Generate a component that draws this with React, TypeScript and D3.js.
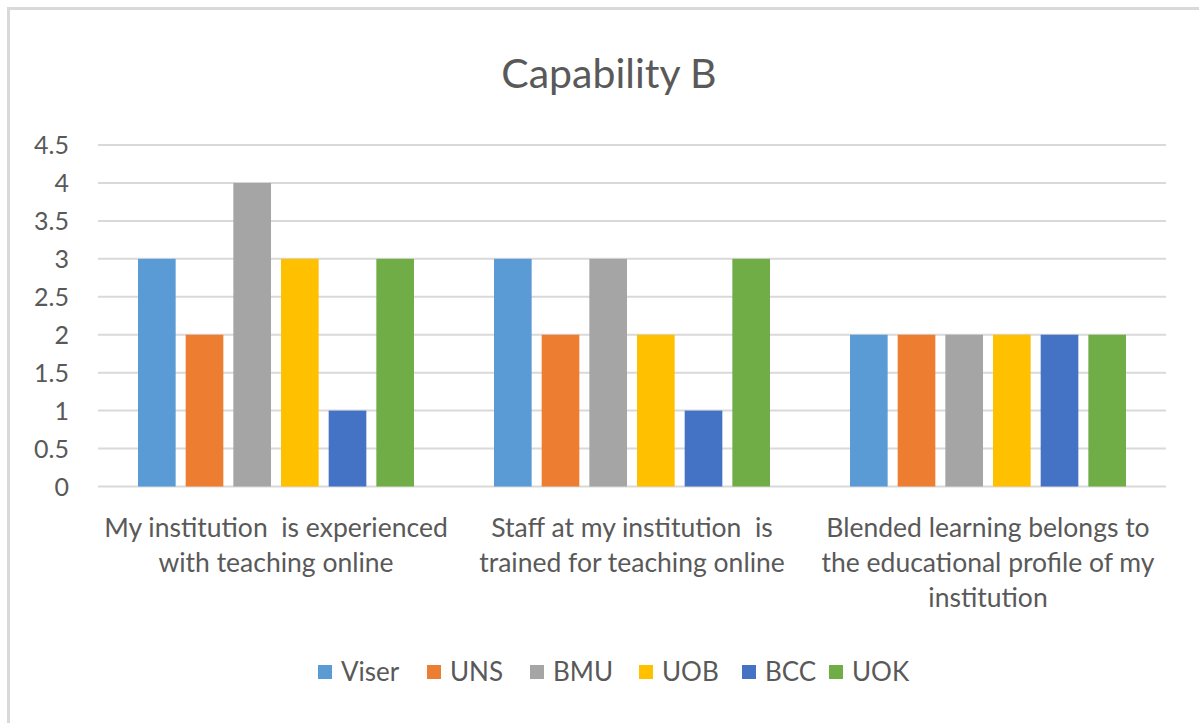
import React from "react";
import * as d3 from "d3";

const categories: string[][] = [
  ["My institution  is experienced", "with teaching online"],
  ["Staff at my institution  is", "trained for teaching online"],
  ["Blended learning belongs to", "the educational profile of my", "institution"],
];
const seriesNames = ["Viser", "UNS", "BMU", "UOB", "BCC", "UOK"];
const seriesColors = ["#5B9BD5", "#ED7D31", "#A5A5A5", "#FFC000", "#4472C4", "#70AD47"];
const viser = [3, 3, 2];
const uns = [2, 2, 2];
const bmu = [4, 3, 2];
const uob = [3, 2, 2];
const bcc = [1, 1, 2];
const uok = [3, 3, 2];
const seriesValues = [viser, uns, bmu, uob, bcc, uok];
const yTicks = [0, 0.5, 1, 1.5, 2, 2.5, 3, 3.5, 4, 4.5];
const title = "Capability B";

const W = 1199;
const H = 723;
const FONT = "Lato, 'Open Sans', sans-serif";
const TEXT = "#595959";
const GRID = "#d9d9d9";

export default function App() {
  const left = 98;
  const right = 1166;
  const top = 145;
  const bottom = 486.5;

  const x0 = d3
    .scaleBand<number>()
    .domain(categories.map((_, i) => i))
    .range([left, right])
    .paddingInner(0)
    .paddingOuter(0);
  const catW = x0.bandwidth();
  const outer = 40;
  const x1 = d3
    .scaleBand<number>()
    .domain(seriesNames.map((_, i) => i))
    .range([outer, catW - outer])
    .paddingInner(0.21)
    .paddingOuter(0);
  const y = d3.scaleLinear().domain([0, 4.5]).range([bottom, top]);

  const legendX = [318, 427, 530, 639, 742, 829];
  const legendY = 672;

  return (
    <svg
      width={W}
      height={H}
      style={{ position: "fixed", left: 0, top: 0, background: "#fff" }}
    >
      <rect x={0} y={0} width={W} height={H} fill="#fff" />
      <rect
        x={8.5}
        y={8.5}
        width={1220}
        height={740}
        fill="#fff"
        stroke={GRID}
        strokeWidth={3}
      />
      <text
        x={609}
        y={88}
        textAnchor="middle"
        fontFamily={FONT}
        fontSize={41}
        fill={TEXT}
      >
        {title}
      </text>
      {yTicks.map((t) => (
        <g key={t}>
          <line
            x1={left}
            x2={right}
            y1={y(t)}
            y2={y(t)}
            stroke={GRID}
            strokeWidth={2}
          />
          <text
            x={69}
            y={y(t)}
            dy="0.36em"
            textAnchor="end"
            fontFamily={FONT}
            fontSize={25}
            fill={TEXT}
          >
            {t}
          </text>
        </g>
      ))}
      {categories.map((_, ci) => (
        <g key={ci} transform={`translate(${x0(ci)},0)`}>
          {seriesValues.map((vals, si) => (
            <rect
              key={si}
              x={x1(si)}
              y={y(vals[ci])}
              width={x1.bandwidth()}
              height={y(0) - y(vals[ci])}
              fill={seriesColors[si]}
            />
          ))}
        </g>
      ))}
      {categories.map((lines, ci) => (
        <text
          key={ci}
          x={(x0(ci) as number) + catW / 2}
          textAnchor="middle"
          fontFamily={FONT}
          fontSize={26.5}
          fill={TEXT}
        >
          {lines.map((ln, li) => (
            <tspan key={li} x={(x0(ci) as number) + catW / 2} y={537 + li * 35} style={{ whiteSpace: "pre" }}>
              {ln}
            </tspan>
          ))}
        </text>
      ))}
      {seriesNames.map((s, i) => (
        <g key={s}>
          <rect
            x={legendX[i]}
            y={legendY - 7}
            width={14}
            height={14}
            fill={seriesColors[i]}
          />
          <text
            x={legendX[i] + 23}
            y={legendY}
            dy="0.36em"
            fontFamily={FONT}
            fontSize={26}
            fill={TEXT}
          >
            {s}
          </text>
        </g>
      ))}
    </svg>
  );
}
